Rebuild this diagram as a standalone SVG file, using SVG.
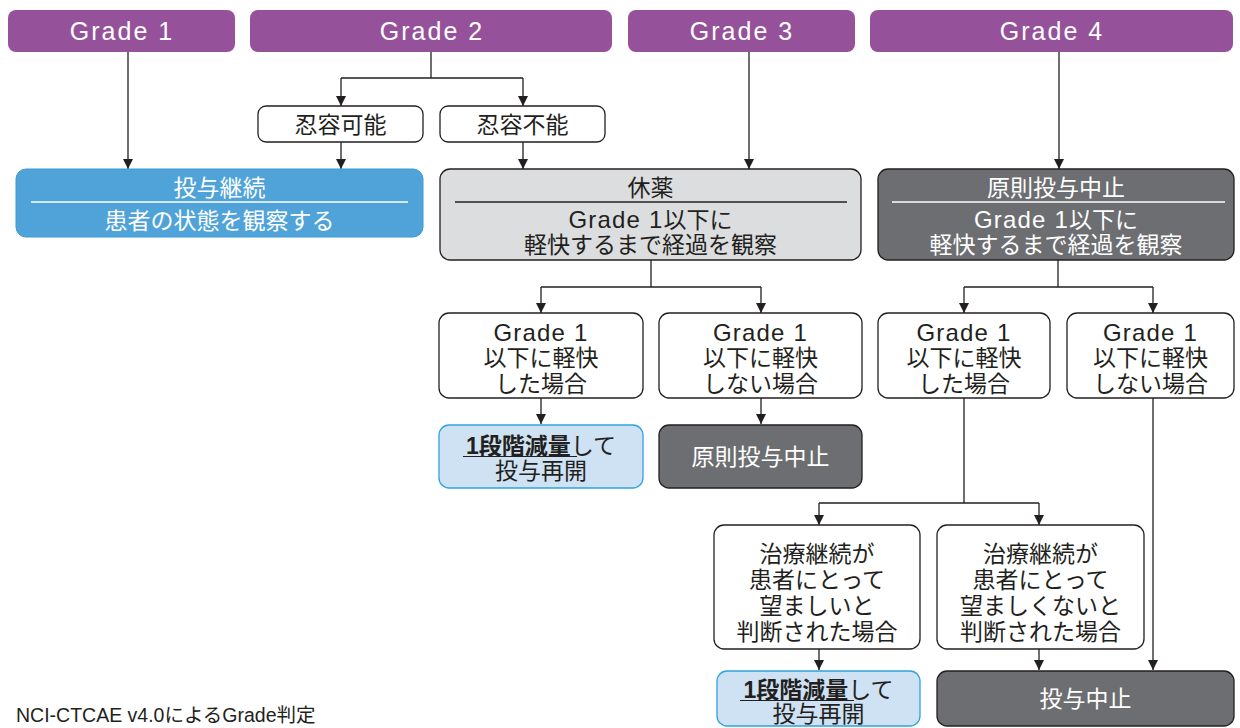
<svg xmlns="http://www.w3.org/2000/svg" width="1240" height="728" viewBox="0 0 1240 728">
<style>
.hdr{fill:#95529B}
.ht{fill:#fff;font-family:"Liberation Sans","Noto Sans CJK JP",sans-serif;font-size:25px;letter-spacing:2px;text-anchor:middle}
.t{font-family:"Liberation Sans","Noto Sans CJK JP",sans-serif;font-size:23px;text-anchor:middle;fill:#231F20}
.w{fill:#fff}
.lat{font-size:24px;letter-spacing:1.2px}
.box{fill:#fff;stroke:#231F20;stroke-width:1.3}
.blue{fill:#4FA3D9;stroke:#3C9AD3;stroke-width:1}
.grey{fill:#DCDDDE;stroke:#231F20;stroke-width:1.3}
.dark{fill:#6D6E71;stroke:#231F20;stroke-width:1.3}
.lb{fill:#CFE2F3;stroke:#2EA3DC;stroke-width:1.3}
.c{fill:none;stroke:#231F20;stroke-width:1.3}
.b{font-weight:bold}
</style>
<defs>
<marker id="ah" viewBox="0 0 10 10" refX="10" refY="5" markerWidth="10" markerHeight="11" markerUnits="userSpaceOnUse" orient="auto">
<path d="M0,0 L10,5 L0,10 Z" fill="#231F20"/>
</marker>
</defs>

<g id="connectors">
<path class="c" d="M128,52 V169" marker-end="url(#ah)"/>
<path class="c" d="M431,52 V78 M341,78 H523"/>
<path class="c" d="M341,78 V106" marker-end="url(#ah)"/>
<path class="c" d="M523,78 V106" marker-end="url(#ah)"/>
<path class="c" d="M341,142 V169" marker-end="url(#ah)"/>
<path class="c" d="M523,142 V169" marker-end="url(#ah)"/>
<path class="c" d="M749,52 V169" marker-end="url(#ah)"/>
<path class="c" d="M1059,52 V169" marker-end="url(#ah)"/>
<path class="c" d="M651,260 V287 M541,287 H761"/>
<path class="c" d="M541,287 V313" marker-end="url(#ah)"/>
<path class="c" d="M761,287 V313" marker-end="url(#ah)"/>
<path class="c" d="M1058,260 V287 M964,287 H1153"/>
<path class="c" d="M964,287 V313" marker-end="url(#ah)"/>
<path class="c" d="M1153,287 V313" marker-end="url(#ah)"/>
<path class="c" d="M541,398 V424" marker-end="url(#ah)"/>
<path class="c" d="M761,398 V424" marker-end="url(#ah)"/>
<path class="c" d="M964,398 V503 M819,503 H1039"/>
<path class="c" d="M819,503 V525" marker-end="url(#ah)"/>
<path class="c" d="M1039,503 V525" marker-end="url(#ah)"/>
<path class="c" d="M819,649 V670" marker-end="url(#ah)"/>
<path class="c" d="M1039,649 V670" marker-end="url(#ah)"/>
<path class="c" d="M1153,398 V670" marker-end="url(#ah)"/>
</g>

<g id="grade1"><rect class="hdr" x="8" y="10" width="227" height="42" rx="8"/><text class="ht" x="122" y="40">Grade 1</text></g>
<g id="grade2"><rect class="hdr" x="250" y="10" width="362" height="42" rx="8"/><text class="ht" x="432" y="40">Grade 2</text></g>
<g id="grade3"><rect class="hdr" x="628" y="10" width="227" height="42" rx="8"/><text class="ht" x="742" y="40">Grade 3</text></g>
<g id="grade4"><rect class="hdr" x="870" y="10" width="363" height="42" rx="8"/><text class="ht" x="1052" y="40">Grade 4</text></g>

<g id="tolerable"><rect class="box" x="258" y="106" width="165" height="36" rx="8"/><text class="t" x="340.5" y="132.5">忍容可能</text></g>
<g id="intolerable"><rect class="box" x="440" y="106" width="165" height="36" rx="8"/><text class="t" x="522.5" y="132.5">忍容不能</text></g>

<g id="continue">
<rect class="blue" x="16" y="169" width="407" height="68" rx="10"/>
<line x1="31" y1="202" x2="408" y2="202" stroke="#fff" stroke-width="1.3"/>
<text class="t w" x="219.5" y="195.5">投与継続</text>
<text class="t w" x="219.5" y="228.5">患者の状態を観察する</text>
</g>

<g id="rest">
<rect class="grey" x="440" y="169" width="421" height="91" rx="10"/>
<line x1="455" y1="202" x2="847" y2="202" stroke="#231F20" stroke-width="1.3"/>
<text class="t" x="650.5" y="195.5">休薬</text>
<text class="t" x="650.5" y="227.5"><tspan class="lat">Grade 1</tspan>以下に</text>
<text class="t" x="650.5" y="252.5">軽快するまで経過を観察</text>
</g>

<g id="stop-principle">
<rect class="dark" x="878" y="169" width="356" height="91" rx="10"/>
<line x1="892" y1="202" x2="1225" y2="202" stroke="#fff" stroke-width="1.3"/>
<text class="t w" x="1056" y="195.5">原則投与中止</text>
<text class="t w" x="1056" y="227.5"><tspan class="lat">Grade 1</tspan>以下に</text>
<text class="t w" x="1056" y="252.5">軽快するまで経過を観察</text>
</g>

<g id="g3-improved">
<rect class="box" x="439" y="313" width="204" height="85" rx="10"/>
<text class="t" x="541" y="340.5"><tspan class="lat">Grade 1</tspan></text>
<text class="t" x="541" y="365.5">以下に軽快</text>
<text class="t" x="541" y="391.5">した場合</text>
</g>
<g id="g3-not-improved">
<rect class="box" x="659" y="313" width="203" height="85" rx="10"/>
<text class="t" x="760.5" y="340.5"><tspan class="lat">Grade 1</tspan></text>
<text class="t" x="760.5" y="365.5">以下に軽快</text>
<text class="t" x="760.5" y="391.5">しない場合</text>
</g>
<g id="g4-improved">
<rect class="box" x="878" y="313" width="172" height="85" rx="10"/>
<text class="t" x="964" y="340.5"><tspan class="lat">Grade 1</tspan></text>
<text class="t" x="964" y="365.5">以下に軽快</text>
<text class="t" x="964" y="391.5">した場合</text>
</g>
<g id="g4-not-improved">
<rect class="box" x="1067" y="313" width="167" height="85" rx="10"/>
<text class="t" x="1150.5" y="340.5"><tspan class="lat">Grade 1</tspan></text>
<text class="t" x="1150.5" y="365.5">以下に軽快</text>
<text class="t" x="1150.5" y="391.5">しない場合</text>
</g>

<g id="resume1">
<rect class="lb" x="439" y="425" width="204" height="63" rx="10"/>
<text class="t" x="541" y="453.5"><tspan class="b">1段階減量</tspan>して</text>
<line x1="463" y1="456.5" x2="577" y2="456.5" stroke="#231F20" stroke-width="1.2"/>
<text class="t" x="541" y="478.5">投与再開</text>
</g>
<g id="stop1">
<rect class="dark" x="659" y="425" width="203" height="63" rx="10"/>
<text class="t w" x="760.5" y="464.5">原則投与中止</text>
</g>

<g id="desirable">
<rect class="box" x="714" y="525" width="206" height="124" rx="10"/>
<text class="t" x="817" y="561.5">治療継続が</text>
<text class="t" x="817" y="587.5">患者にとって</text>
<text class="t" x="817" y="613.5">望ましいと</text>
<text class="t" x="817" y="639.5">判断された場合</text>
</g>
<g id="undesirable">
<rect class="box" x="937" y="525" width="207" height="124" rx="10"/>
<text class="t" x="1040.5" y="561.5">治療継続が</text>
<text class="t" x="1040.5" y="587.5">患者にとって</text>
<text class="t" x="1040.5" y="613.5">望ましくないと</text>
<text class="t" x="1040.5" y="639.5">判断された場合</text>
</g>

<g id="resume2">
<rect class="lb" x="717" y="671" width="203" height="55" rx="10"/>
<text class="t" x="818.5" y="697.5"><tspan class="b">1段階減量</tspan>して</text>
<line x1="740" y1="700.5" x2="854" y2="700.5" stroke="#231F20" stroke-width="1.2"/>
<text class="t" x="818.5" y="722">投与再開</text>
</g>
<g id="stop2">
<rect class="dark" x="937" y="671" width="297" height="55" rx="10"/>
<text class="t w" x="1085.5" y="707">投与中止</text>
</g>

<g id="footer"><text x="16" y="722" font-family="'Liberation Sans','Noto Sans CJK JP',sans-serif" font-size="19.5" fill="#231F20">NCI-CTCAE v4.0によるGrade判定</text></g>
</svg>
